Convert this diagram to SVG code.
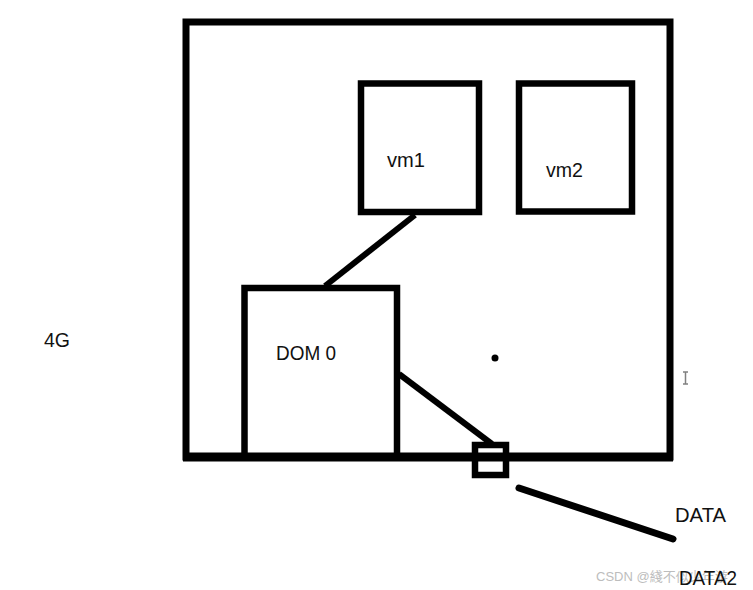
<svg xmlns="http://www.w3.org/2000/svg" width="753" height="590" viewBox="0 0 753 590">
<style>
.box{fill:none;stroke:#000;stroke-width:6.5}
.ln{stroke:#000;stroke-width:6;fill:none}
.t{font-family:"Liberation Sans",Arial,sans-serif;font-size:21px;fill:#111}
.wm{font-family:"Liberation Sans","Noto Sans CJK SC",sans-serif;font-size:13px;fill:#bdbdbd}
</style>
<rect width="753" height="590" fill="#fff"/>
<g id="host">
<rect class="box" x="186" y="22" width="484" height="435" style="stroke-width:7"/>
<line x1="183" y1="457" x2="673" y2="457" stroke="#000" stroke-width="9"/>
</g>
<g id="vm1">
<rect class="box" x="361" y="83.5" width="118" height="128.5"/>
<text class="t" x="387" y="167" textLength="38" lengthAdjust="spacingAndGlyphs">vm1</text>
</g>
<g id="vm2">
<rect class="box" x="519" y="83.5" width="113" height="128"/>
<text class="t" x="546" y="177" textLength="37" lengthAdjust="spacingAndGlyphs">vm2</text>
</g>
<g id="dom0">
<rect class="box" x="244.5" y="288" width="152.5" height="169"/>
<text class="t" x="276" y="360" textLength="60" lengthAdjust="spacingAndGlyphs">DOM 0</text>
</g>
<g id="port">
<rect class="box" x="475" y="445" width="31" height="30"/>
</g>
<g id="connectors">
<line class="ln" x1="415" y1="215" x2="325" y2="286"/>
<line class="ln" x1="399" y1="374" x2="492" y2="444"/>
<line class="ln" x1="519" y1="488" x2="673" y2="539" style="stroke-width:7;stroke-linecap:round"/>
</g>
<g id="labels">
<text class="t" x="44" y="347" textLength="26" lengthAdjust="spacingAndGlyphs">4G</text>
<text class="t" x="675" y="522" textLength="51" lengthAdjust="spacingAndGlyphs">DATA</text>
<text class="wm" x="596" y="581">CSDN @綫不似少年游</text>
<text class="t" x="679" y="585" textLength="58" lengthAdjust="spacingAndGlyphs">DATA2</text>
</g>
<circle cx="495" cy="358" r="3.5" fill="#000"/>
<path d="M683 372h5M685.5 372v12M683 384h5" stroke="#808080" stroke-width="1.5" fill="none"/>
</svg>
